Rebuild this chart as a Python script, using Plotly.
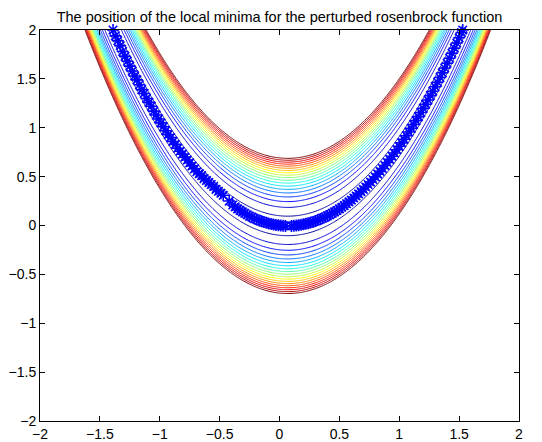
import numpy as np
import plotly.graph_objects as go

# ---- data ----
title_text = "The position of the local minima for the perturbed rosenbrock function"

# centre valley of the (perturbed) function: y ~ A*x^2 + B*x
valley_a = 0.94
valley_b = -0.13
# contour levels of (y - valley)^2
level_start = 0.01
level_end = 0.478
level_step = 0.026

# local minima (asterisks) - left branch
min_left_x = [-1.39, -1.37, -1.35, -1.33, -1.31, -1.29, -1.27, -1.25, -1.23, -1.21,
              -1.19, -1.17, -1.15, -1.13, -1.11, -1.09, -1.07, -1.05, -1.03, -1.01,
              -0.99, -0.97, -0.95, -0.93, -0.91, -0.89, -0.87, -0.85, -0.83, -0.81,
              -0.79, -0.77, -0.75, -0.73, -0.71, -0.69, -0.67, -0.65, -0.63, -0.61,
              -0.59, -0.57, -0.55, -0.53, -0.51, -0.49, -0.47]
min_left_y = [2.00, 1.94, 1.89, 1.84, 1.78, 1.73, 1.68, 1.63, 1.58, 1.53,
              1.49, 1.44, 1.39, 1.35, 1.30, 1.26, 1.22, 1.17, 1.13, 1.09,
              1.05, 1.01, 0.97, 0.93, 0.90, 0.86, 0.83, 0.79, 0.76, 0.73,
              0.70, 0.67, 0.64, 0.61, 0.58, 0.55, 0.53, 0.51, 0.48, 0.46,
              0.44, 0.42, 0.40, 0.37, 0.35, 0.33, 0.31]
# isolated minimum
min_out_x = [-0.42]
min_out_y = [0.25]
# lower centre segment
min_mid_x = [-0.39, -0.37, -0.35, -0.33, -0.31, -0.29, -0.27, -0.25, -0.23, -0.21,
             -0.19, -0.17, -0.15, -0.13, -0.11, -0.09, -0.07, -0.05, -0.03, -0.01,
             0.01, 0.03, 0.05]
min_mid_y = [0.21, 0.19, 0.17, 0.155, 0.14, 0.125, 0.11, 0.095, 0.085, 0.072,
             0.062, 0.052, 0.043, 0.035, 0.028, 0.02, 0.015, 0.01, 0.006, 0.002,
             0.0, -0.002, -0.004]
# right branch
min_right_x = [0.10, 0.12, 0.14, 0.16, 0.18, 0.20, 0.22, 0.24, 0.26, 0.28,
               0.30, 0.32, 0.34, 0.36, 0.38, 0.40, 0.42, 0.44, 0.46, 0.48,
               0.50, 0.52, 0.54, 0.56, 0.58, 0.60, 0.62, 0.64, 0.66, 0.68,
               0.70, 0.72, 0.74, 0.76, 0.78, 0.80, 0.82, 0.84, 0.86, 0.88,
               0.90, 0.92, 0.94, 0.96, 0.98, 1.00, 1.02, 1.04, 1.06, 1.08,
               1.10, 1.12, 1.14, 1.16, 1.18, 1.20, 1.22, 1.24, 1.26, 1.28,
               1.30, 1.32, 1.34, 1.36, 1.38, 1.40, 1.42, 1.44, 1.46, 1.48,
               1.50, 1.52, 1.53]
min_right_y = [-0.004, -0.002, 0.000, 0.003, 0.007, 0.012, 0.017, 0.023, 0.030, 0.037,
               0.046, 0.055, 0.064, 0.075, 0.086, 0.098, 0.111, 0.125, 0.139, 0.154,
               0.170, 0.187, 0.204, 0.222, 0.241, 0.260, 0.281, 0.302, 0.324, 0.346,
               0.370, 0.394, 0.419, 0.444, 0.471, 0.498, 0.526, 0.554, 0.583, 0.614,
               0.644, 0.676, 0.708, 0.742, 0.775, 0.810, 0.845, 0.882, 0.918, 0.956,
               0.994, 1.034, 1.073, 1.114, 1.156, 1.198, 1.241, 1.284, 1.329, 1.374,
               1.420, 1.466, 1.514, 1.562, 1.611, 1.660, 1.711, 1.762, 1.814, 1.867,
               1.920, 1.974, 2.000]

x_ticks = [-2, -1.5, -1, -0.5, 0, 0.5, 1, 1.5, 2]
y_ticks = [-2, -1.5, -1, -0.5, 0, 0.5, 1, 1.5, 2]

# ---- figure ----
gx = np.linspace(-2, 2, 501)
gy = np.linspace(-2, 2, 501)
GX, GY = np.meshgrid(gx, gy)
GZ = (GY - (valley_a * GX ** 2 + valley_b * GX)) ** 2

jet = [[0.0, "rgb(0,0,160)"], [0.11, "rgb(0,0,255)"], [0.36, "rgb(0,255,255)"],
       [0.61, "rgb(255,255,0)"], [0.86, "rgb(255,0,0)"], [1.0, "rgb(128,0,0)"]]

fig = go.Figure()
fig.add_trace(go.Contour(
    x=gx, y=gy, z=GZ,
    autocontour=False,
    contours=dict(start=level_start, end=level_end, size=level_step, coloring="lines"),
    colorscale=jet, zmin=level_start, zmax=level_end, zauto=False,
    line=dict(width=1), showscale=False, hoverinfo="skip",
))

mx = min_left_x + min_out_x + min_mid_x + min_right_x
my = min_left_y + min_out_y + min_mid_y + min_right_y
fig.add_trace(go.Scatter(
    x=mx, y=my, mode="markers",
    marker=dict(symbol="asterisk-open", size=10, color="rgb(0,0,255)",
                line=dict(color="rgb(0,0,255)", width=1.6)),
    showlegend=False, cliponaxis=False,
))

font_family = "Liberation Sans, Arial, Helvetica, sans-serif"
axis_common = dict(range=[-2, 2], showline=True, linecolor="black", linewidth=1,
                   mirror="ticks", ticks="inside", ticklen=5, tickcolor="black",
                   showgrid=False, zeroline=False, automargin=False,
                   tickfont=dict(family=font_family, size=14, color="black"))
fig.update_xaxes(**axis_common, tickvals=x_ticks)
fig.update_yaxes(**axis_common, tickvals=y_ticks)

# the page body adds an 8px offset, so the figure is sized to fill the rest
fig.update_layout(
    width=534, height=434,
    margin=dict(l=32, r=23, t=22, b=21),
    paper_bgcolor="white", plot_bgcolor="white",
    title=dict(text=title_text, x=0.5, xref="paper", y=0.991, yanchor="top",
               pad=dict(t=0, b=0),
               font=dict(family=font_family, size=14.5, color="black")),
    showlegend=False,
)

fig.write_html("out.html")
